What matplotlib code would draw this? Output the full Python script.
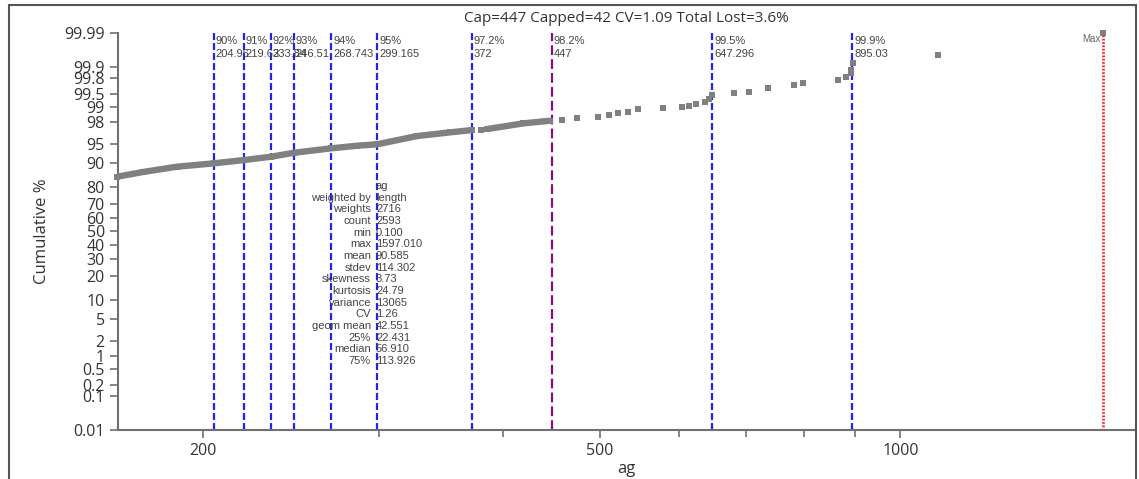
import matplotlib
matplotlib.use("Agg")
import matplotlib.pyplot as plt
from matplotlib.patches import Rectangle
from statistics import NormalDist

plt.rcParams["lines.scale_dashes"] = False

W, H = 1139, 479

# data
band1_ag = [164.0, 174.1, 188.2, 205.1, 219.9, 234.0, 246.8, 268.8, 285.4, 298.9, 327.6, 353.8, 372.0]
band1_pct = [84.76, 86.74, 88.75, 89.92, 90.97, 91.94, 93.00, 94.04, 94.60, 94.88, 96.31, 96.84, 97.13]
band2_ag = [385.2, 418.8, 441.6, 445.7]
band2_pct = [97.25, 97.86, 98.07, 98.10]
pts_ag = [379.8, 458.0, 474.4, 498.1, 510.0, 521.6, 533.8, 546.3, 578.6, 604.6, 613.2, 623.2,
          637.6, 643.0, 648.0, 680.7, 705.7, 737.0, 781.8, 799.5, 866.2, 882.4, 891.4, 891.4,
          897.0, 1090.4, 1597.01]
pts_pct = [97.17, 98.2, 98.35, 98.42, 98.55, 98.66, 98.76, 98.91, 98.98, 99.03, 99.08, 99.15,
           99.25, 99.36, 99.46, 99.53, 99.55, 99.65, 99.69, 99.73, 99.77, 99.81, 99.85, 99.875,
           99.918, 99.954, 99.99]

line_vals = [204.95, 219.63, 233.84, 246.51, 268.743, 299.165, 372, 447, 647.296, 895.03]
line_pcts = ["90%", "91%", "92%", "93%", "94%", "95%", "97.2%", "98.2%", "99.5%", "99.9%"]
line_txt = ["204.95", "219.63", "233.84", "246.51", "268.743", "299.165", "372", "447", "647.296", "895.03"]
max_val = 1597.01

stat_names = ["", "weighted by", "weights", "count", "min", "max", "mean", "stdev", "skewness",
              "kurtosis", "variance", "CV", "geom mean", "25%", "median", "75%"]
stat_vals = ["ag", "length", "2716", "2593", "0.100", "1597.010", "90.585", "114.302", "3.73",
             "24.79", "13065", "1.26", "42.551", "22.431", "56.910", "113.926"]

y_ticks = [0.01, 0.1, 0.2, 0.5, 1, 2, 5, 10, 20, 30, 40, 50, 60, 70, 80, 90, 95, 98, 99, 99.5,
           99.8, 99.9, 99.99]
y_labels = ["0.01", "0.1", "0.2", "0.5", "1", "2", "5", "10", "20", "30", "40", "50", "60", "70",
            "80", "90", "95", "98", "99", "99.5", "99.8", "99.9", "99.99"]

nd = NormalDist()


def z(p):
    return nd.inv_cdf(p / 100.0)


fig = plt.figure(figsize=(W / 100, H / 100), dpi=100)
ax = fig.add_axes([118 / W, 1 - 430 / H, (1134 - 118) / W, (430 - 33) / H])

gray = "#808080"
ax.plot(band1_ag, [z(p) for p in band1_pct], color=gray, lw=4.6, solid_capstyle="butt", zorder=3)
ax.plot(band2_ag, [z(p) for p in band2_pct], color=gray, lw=4.6, solid_capstyle="butt", zorder=3)
ax.plot(band1_ag + band2_ag + pts_ag, [z(p) for p in band1_pct + band2_pct + pts_pct], "s",
        color=gray, ms=4.8, mew=0, zorder=3, clip_on=False)

ax.set_xscale("log")
ax.set_xlim(164.4, 1714)
ax.set_ylim(z(0.01), z(99.99))

for i, v in enumerate(line_vals):
    if line_pcts[i] == "98.2%":
        ax.axvline(v, color="#8b0a8b", lw=1.6, dashes=(7, 3), zorder=2)
    else:
        ax.axvline(v, color="#1f1fff", lw=1.6, dashes=(5, 2.2), zorder=2)
    ax.annotate(line_pcts[i], xy=(v, 1), xycoords=("data", "axes fraction"), xytext=(1.5, -5.5),
                textcoords="offset points", fontsize=8, color="#444444", family="Liberation Sans",
                va="center", ha="left")
    ax.annotate(line_txt[i], xy=(v, 1), xycoords=("data", "axes fraction"), xytext=(1.5, -15),
                textcoords="offset points", fontsize=8, color="#444444", family="Liberation Sans",
                va="center", ha="left")

ax.axvline(max_val, color="#ff2020", lw=2, dashes=(1.2, 1.2), zorder=2)
ax.annotate("Max", xy=(max_val, 1), xycoords=("data", "axes fraction"), xytext=(-2, -4),
            textcoords="offset points", fontsize=7, color="#666666", family="Liberation Sans",
            va="center", ha="right")

# stats block
for i in range(len(stat_names)):
    yy = 1 - (186 + i * 11.67) / H
    fig.text(371 / W, yy, stat_names[i], ha="right", va="center", fontsize=8,
             color="#444444", family="Liberation Sans")
    fig.text(376 / W, yy, stat_vals[i], ha="left", va="center", fontsize=8,
             color="#444444", family="Liberation Sans")

ax.set_yticks([z(p) for p in y_ticks])
ax.set_yticklabels(y_labels)
ax.set_xticks([200, 500, 1000])
ax.set_xticklabels(["200", "500", "1000"])
ax.set_xticks([300, 400, 600, 700, 800, 900], minor=True)
ax.set_xticklabels([], minor=True)

for s in ["top", "right"]:
    ax.spines[s].set_visible(False)
for s in ["left", "bottom"]:
    ax.spines[s].set_color("#707070")
    ax.spines[s].set_linewidth(1.5)
ax.tick_params(axis="both", which="major", length=6, width=1.2, color="#707070",
               labelsize=11.5, labelcolor="#333333")
ax.tick_params(axis="x", which="minor", length=5, width=1.2, color="#707070")
for lab in ax.get_xticklabels() + ax.get_yticklabels():
    lab.set_family("Open Sans")

ax.set_xlabel("ag", fontsize=12, color="#333333", family="Open Sans", labelpad=1)
ax.set_ylabel("Cumulative %", fontsize=12, color="#333333", family="Open Sans", labelpad=10)
fig.text(626 / W, 1 - 19 / H, "Cap=447 Capped=42 CV=1.09 Total Lost=3.6%", ha="center",
         va="center", fontsize=11, color="#333333", family="Open Sans")

fig.patches.append(Rectangle((9 / W, -0.1), (1136 - 9) / W, 1 - 5 / H + 0.1,
                             transform=fig.transFigure, fill=False, ec="#555555", lw=1.5))

fig.savefig("out.png", dpi=100)
